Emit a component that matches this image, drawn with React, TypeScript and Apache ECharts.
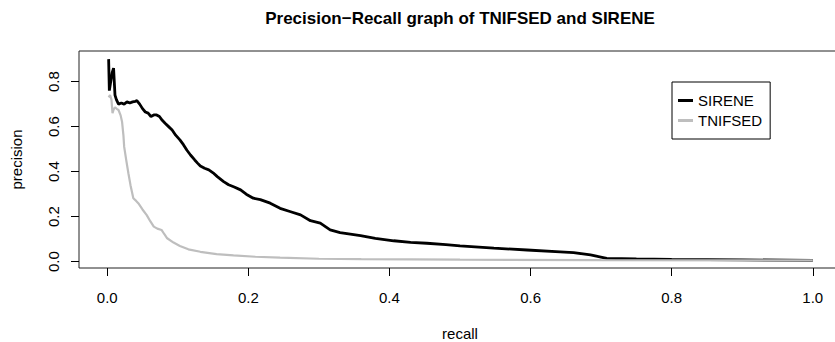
import React, { useEffect, useRef } from "react";
import * as echarts from "echarts";

const sireneRecall = [
  0.002, 0.003, 0.005, 0.007, 0.009, 0.010, 0.011, 0.013, 0.016, 0.020, 0.024, 0.028, 0.032, 0.036, 0.040, 0.042,
  0.046, 0.050, 0.054, 0.058, 0.062, 0.066, 0.070, 0.074, 0.078, 0.082, 0.087, 0.092, 0.097, 0.103, 0.108, 0.113,
  0.118, 0.124, 0.128, 0.132, 0.138, 0.144, 0.150, 0.156, 0.165, 0.172, 0.180, 0.189, 0.197, 0.207, 0.217, 0.231,
  0.245, 0.260, 0.274, 0.288, 0.302, 0.316, 0.330, 0.359, 0.380, 0.406, 0.430, 0.453, 0.480, 0.500, 0.548, 0.595,
  0.642, 0.661, 0.685, 0.708, 0.750, 0.800, 0.900, 1.000,
];
const sirenePrecision = [
  0.90, 0.76, 0.80, 0.84, 0.86, 0.80, 0.74, 0.72, 0.70, 0.705, 0.70, 0.71, 0.705, 0.71, 0.712, 0.716,
  0.70, 0.68, 0.665, 0.66, 0.645, 0.652, 0.652, 0.645, 0.628, 0.615, 0.60, 0.585, 0.562, 0.541, 0.52, 0.495,
  0.474, 0.452, 0.438, 0.425, 0.415, 0.408, 0.395, 0.378, 0.356, 0.342, 0.332, 0.319, 0.300, 0.282, 0.276, 0.26,
  0.237, 0.222, 0.208, 0.182, 0.171, 0.141, 0.129, 0.116, 0.104, 0.093, 0.086, 0.082, 0.076, 0.070, 0.060, 0.052,
  0.044, 0.040, 0.030, 0.015, 0.012, 0.010, 0.008, 0.006,
];

const tnifsedRecall = [
  0.002, 0.004, 0.006, 0.0075, 0.009, 0.011, 0.014, 0.016, 0.019, 0.021, 0.023, 0.024, 0.027, 0.030, 0.033, 0.037,
  0.041, 0.044, 0.050, 0.056, 0.061, 0.066, 0.071, 0.077, 0.081, 0.085, 0.094, 0.103, 0.115, 0.132, 0.155, 0.179,
  0.210, 0.245, 0.300, 0.360, 0.500, 0.700, 1.000,
];
const tnifsedPrecision = [
  0.73, 0.74, 0.72, 0.66, 0.675, 0.686, 0.678, 0.674, 0.65, 0.622, 0.56, 0.511, 0.45, 0.393, 0.34, 0.282,
  0.27, 0.26, 0.232, 0.207, 0.18, 0.156, 0.147, 0.141, 0.122, 0.104, 0.085, 0.07, 0.055, 0.044, 0.034, 0.028,
  0.022, 0.018, 0.013, 0.011, 0.009, 0.007, 0.006,
];

const xTicks = [0, 0.2, 0.4, 0.6, 0.8, 1.0];
const yTicks = [0, 0.2, 0.4, 0.6, 0.8];

const FONT = "'Liberation Sans', Arial, Helvetica, sans-serif";
const LEGEND_ICON = "path://M0,0M15,14M0,5.5L15,5.5L15,8.5L0,8.5Z";

export default function App() {
  const ref = useRef<HTMLDivElement>(null);
  useEffect(() => {
    if (!ref.current) return;
    const chart = echarts.init(ref.current, undefined, { renderer: "svg" });
    const pair = (xs: number[], ys: number[]) => xs.map((x, i) => [x, ys[i]]);
    chart.setOption({
      animation: false,
      backgroundColor: "#ffffff",
      textStyle: { fontFamily: FONT },
      title: {
        text: "Precision\u2212Recall graph of TNIFSED and SIRENE",
        left: 460,
        top: 10,
        textAlign: "center",
        padding: 0,
        textStyle: { fontFamily: FONT, fontSize: 17, fontWeight: "bold", color: "#000" },
      },
      legend: {
        orient: "vertical",
        left: 672,
        top: 82,
        padding: [11, 8, 11, 6],
        borderColor: "#000",
        borderWidth: 1,
        itemWidth: 15,
        itemHeight: 14,
        itemGap: 5,
        icon: LEGEND_ICON,
        textStyle: { fontFamily: FONT, fontSize: 15, lineHeight: 14, color: "#000" },
        data: ["SIRENE", "TNIFSED"],
      },
      grid: {
        left: 79,
        top: 51,
        right: -6,
        bottom: 74,
        show: true,
        outerBoundsMode: "none",
        containLabel: false,
        borderColor: "#222",
        borderWidth: 1,
        backgroundColor: "transparent",
      },
      xAxis: {
        type: "value",
        min: -0.04,
        max: 1.04,
        name: "recall",
        nameLocation: "middle",
        nameGap: 58,
        nameTextStyle: { fontFamily: FONT, fontSize: 15, lineHeight: 15, color: "#000" },
        axisLine: { show: false, onZero: false },
        splitLine: { show: false },
        axisTick: { show: true, inside: false, length: 8, lineStyle: { color: "#000", width: 1 }, customValues: xTicks },
        axisLabel: {
          show: true,
          margin: 22,
          fontFamily: FONT,
          fontSize: 15,
          color: "#000",
          customValues: xTicks,
          formatter: (v: number) => v.toFixed(1),
        },
      },
      yAxis: {
        type: "value",
        min: -0.028,
        max: 0.936,
        name: "precision",
        nameLocation: "middle",
        nameGap: 55,
        nameTextStyle: { fontFamily: FONT, fontSize: 15, color: "#000" },
        axisLine: { show: false, onZero: false },
        splitLine: { show: false },
        axisTick: { show: true, inside: false, length: 8, lineStyle: { color: "#000", width: 1 }, customValues: yTicks },
        axisLabel: {
          show: true,
          margin: 18,
          rotate: 90,
          fontFamily: FONT,
          fontSize: 15,
          color: "#000",
          customValues: yTicks,
          formatter: (v: number) => v.toFixed(1),
        },
      },
      series: [
        {
          name: "SIRENE",
          type: "line",
          data: pair(sireneRecall, sirenePrecision),
          symbol: "none",
          showSymbol: false,
          lineStyle: { color: "#000000", width: 2.8 },
          itemStyle: { color: "#000000" },
          z: 2,
        },
        {
          name: "TNIFSED",
          type: "line",
          data: pair(tnifsedRecall, tnifsedPrecision),
          symbol: "none",
          showSymbol: false,
          lineStyle: { color: "#bebebe", width: 2.2 },
          itemStyle: { color: "#bebebe" },
          z: 3,
        },
      ],
    });
    return () => chart.dispose();
  }, []);
  return (
    <div
      ref={ref}
      style={{ position: "fixed", left: 0, top: 0, width: 835, height: 342, background: "#fff" }}
    />
  );
}
